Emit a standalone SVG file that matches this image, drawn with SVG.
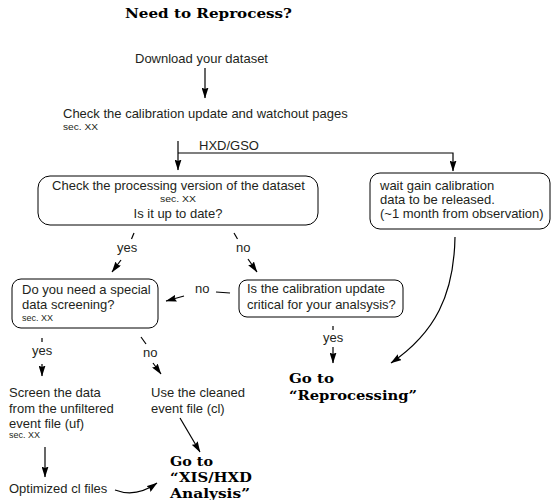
<svg xmlns="http://www.w3.org/2000/svg" width="551" height="500" viewBox="0 0 551 500">
<defs>
<marker id="ah" markerWidth="11" markerHeight="7" refX="10.5" refY="3.5" orient="auto" markerUnits="userSpaceOnUse">
<path d="M0,0 L11,3.5 L0,7 L1.5,3.5 z" fill="#000"/>
</marker>
</defs>
<style>
.t{font-family:"Liberation Sans",Arial,sans-serif;font-size:13px;fill:#231f20}
.s{font-family:"Liberation Sans",Arial,sans-serif;font-size:9px;fill:#231f20}
.h{font-family:"DejaVu Serif",serif;font-weight:bold;font-size:12.5px;fill:#000}
.box{fill:#fff;stroke:#000;stroke-width:1}
.ln{fill:none;stroke:#000;stroke-width:1.2}
.ar{fill:none;stroke:#000;stroke-width:1.2;marker-end:url(#ah)}
</style>
<rect width="551" height="500" fill="#fff"/>
<text class="h" x="125" y="18" textLength="167" lengthAdjust="spacingAndGlyphs">Need to Reprocess?</text>

<g id="download"><text class="t" x="135" y="63">Download your dataset</text></g>
<g id="check-calib">
<text class="t" x="63" y="118">Check the calibration update and watchout pages</text>
<text class="s" x="63" y="130" textLength="35" lengthAdjust="spacingAndGlyphs">sec. XX</text>
</g>
<g id="check-version">
<rect class="box" x="38" y="176" width="280" height="49" rx="12"/>
<text class="t" x="178.5" y="190" text-anchor="middle">Check the processing version of the dataset</text>
<text class="s" x="160" y="202" textLength="36" lengthAdjust="spacingAndGlyphs">sec. XX</text>
<text class="t" x="178" y="218" text-anchor="middle">Is it up to date?</text>
</g>
<g id="wait-gain">
<rect class="box" x="370" y="173" width="180" height="56" rx="10"/>
<text class="t" x="380" y="190">wait gain calibration</text>
<text class="t" x="380" y="204">data to be released.</text>
<text class="t" x="380" y="218">(~1 month from observation)</text>
</g>
<g id="special-screening">
<rect class="box" x="12" y="279" width="146" height="49" rx="9"/>
<text class="t" x="22" y="294">Do you need a special</text>
<text class="t" x="22" y="309">data screening?</text>
<text class="s" x="22" y="321">sec. XX</text>
</g>
<g id="calib-critical">
<rect class="box" x="239" y="280" width="164" height="37" rx="8"/>
<text class="t" x="247" y="293">Is the calibration update</text>
<text class="t" x="247" y="309">critical for your analsysis?</text>
</g>
<g id="screen-data">
<text class="t" x="9" y="397">Screen the data</text>
<text class="t" x="9" y="413">from the unfiltered</text>
<text class="t" x="9" y="428">event file (uf)</text>
<text class="s" x="9" y="438">sec. XX</text>
</g>
<g id="use-cleaned">
<text class="t" x="151" y="397">Use the cleaned</text>
<text class="t" x="151" y="413">event file (cl)</text>
</g>
<g id="optimized"><text class="t" x="9" y="493">Optimized cl files</text></g>
<g id="go-reprocessing">
<text class="h" x="289" y="383" textLength="45" lengthAdjust="spacingAndGlyphs">Go to</text>
<text class="h" x="289" y="400" textLength="128" lengthAdjust="spacingAndGlyphs">“Reprocessing”</text>
</g>
<g id="go-analysis">
<text class="h" x="170" y="466" textLength="43" lengthAdjust="spacingAndGlyphs">Go to</text>
<text class="h" x="170" y="482" textLength="82" lengthAdjust="spacingAndGlyphs">“XIS/HXD</text>
<text class="h" x="170" y="497.5" textLength="80" lengthAdjust="spacingAndGlyphs">Analysis”</text>
</g>

<g id="connectors">
<path class="ar" d="M205,68 V98"/>
<path class="ar" d="M178,141 V170"/>
<path class="ar" d="M178,153 H453 V171"/>
<text class="t" x="199" y="150">HXD/GSO</text>
<path class="ln" d="M134,233 L131.5,239"/>
<text class="t" x="117" y="252">yes</text>
<path class="ar" d="M121,260 L112,272"/>
<path class="ln" d="M234,233 L237.5,239"/>
<text class="t" x="236" y="252">no</text>
<path class="ar" d="M248,259 L257,272"/>
<path class="ln" d="M230,293 L216,292"/>
<text class="t" x="195" y="293">no</text>
<path class="ar" d="M184,296 L166,301"/>
<path class="ln" d="M42,338 V342"/>
<text class="t" x="32" y="355">yes</text>
<path class="ar" d="M42,364 V376"/>
<path class="ln" d="M141,337 L146,344"/>
<text class="t" x="143" y="357">no</text>
<path class="ar" d="M153,363 L161,374"/>
<path class="ln" d="M333,326 V330"/>
<text class="t" x="323" y="342">yes</text>
<path class="ar" d="M333,347 V363"/>
<path class="ar" d="M455,237 C454,295 435,333 391,363"/>
<path class="ar" d="M180,418 L200,452"/>
<path class="ar" d="M45,447 V477"/>
<path class="ar" d="M115,490 Q136,498 157,483"/>
</g>
</svg>
